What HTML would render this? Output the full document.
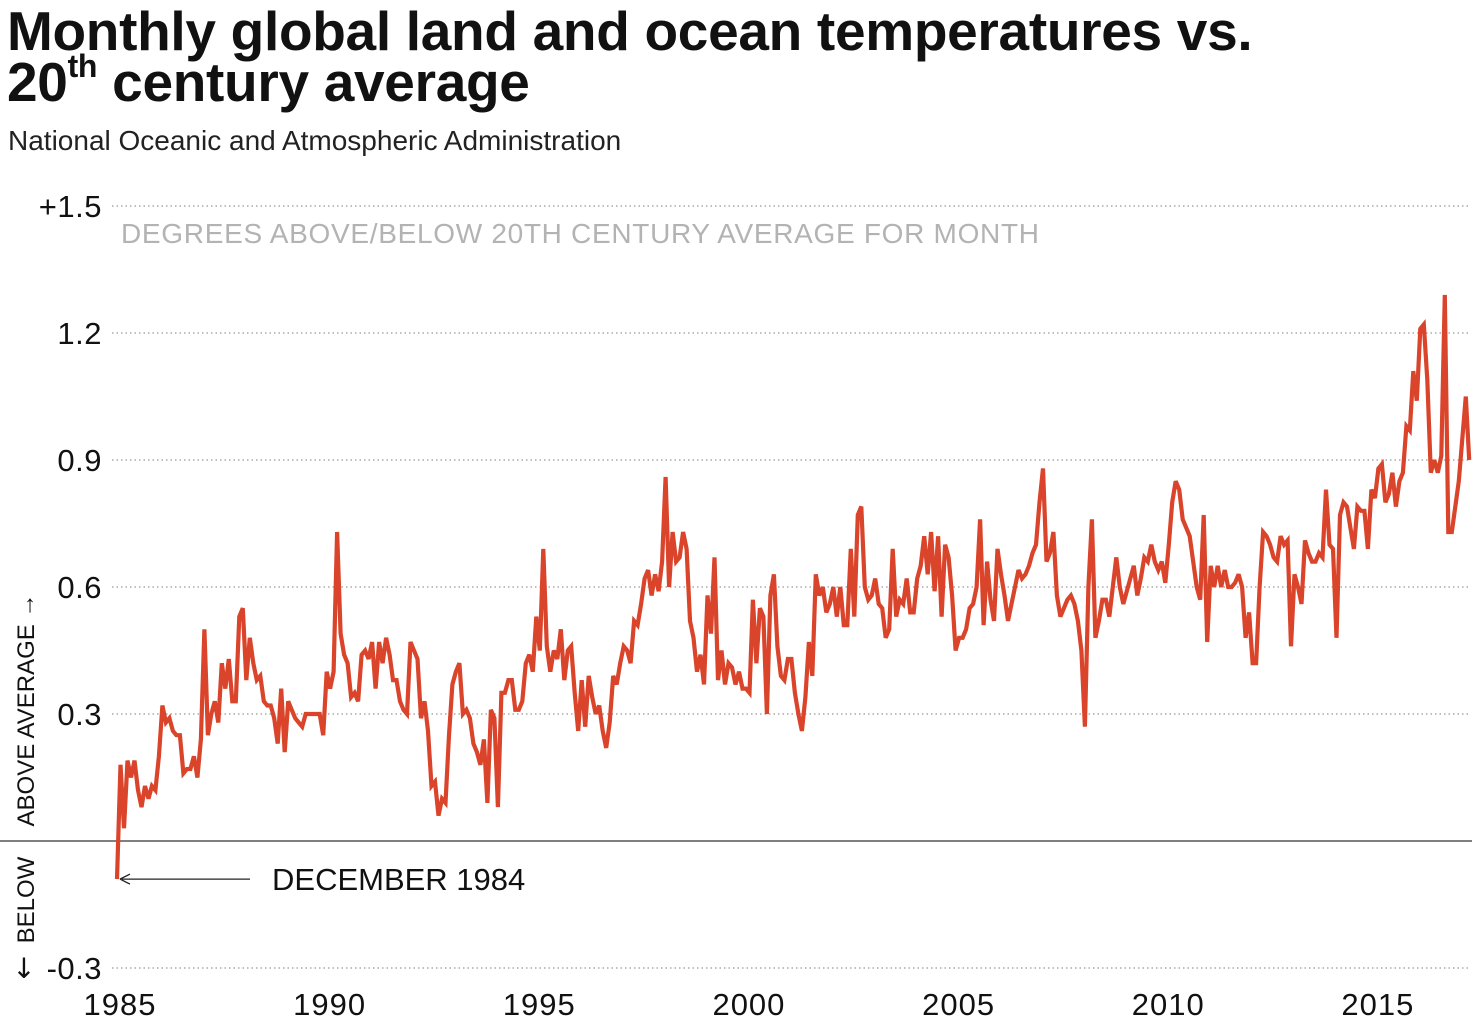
<!DOCTYPE html>
<html><head><meta charset="utf-8">
<style>
body{margin:0;background:#fff;font-family:"Liberation Sans",sans-serif;}
#wrap{position:relative;width:1484px;height:1027px;overflow:hidden;}
h1{position:absolute;left:7px;top:6px;margin:0;font-size:55px;line-height:51px;font-weight:bold;color:#111;letter-spacing:-0.3px;}
h1 sup{font-size:32px;line-height:0;vertical-align:24px;}
#sub{position:absolute;left:8px;top:125px;font-size:28px;color:#222;}
</style></head><body>
<div id="wrap">
<h1>Monthly global land and ocean temperatures vs.<br>20<sup>th</sup> century average</h1>
<div id="sub">National Oceanic and Atmospheric Administration</div>
<svg id="chart" width="1484" height="1027" style="position:absolute;left:0;top:0"></svg>
</div>
<script>
const yTicks=[1.5,1.2,0.9,0.6,0.3,0,-0.3];
const yTickLabels=["+1.5","1.2","0.9","0.6","0.3","","-0.3"];
const xYears=[1985,1990,1995,2000,2005,2010,2015];
const dec1984=[-0.09];
const y1985=[0.18,0.03,0.19,0.15,0.19,0.12,0.08,0.13,0.10,0.13,0.12,0.20];
const y1986=[0.32,0.28,0.29,0.26,0.25,0.25,0.16,0.17,0.17,0.20,0.15,0.24];
const y1987=[0.50,0.25,0.30,0.33,0.28,0.42,0.36,0.43,0.33,0.33,0.53,0.55];
const y1988=[0.38,0.48,0.42,0.38,0.39,0.33,0.32,0.32,0.29,0.23,0.36,0.21];
const y1989=[0.33,0.31,0.29,0.28,0.27,0.30,0.30,0.30,0.30,0.30,0.25,0.40];
const y1990=[0.36,0.40,0.73,0.49,0.44,0.42,0.34,0.35,0.33,0.44,0.45,0.43];
const y1991=[0.47,0.36,0.47,0.42,0.48,0.44,0.38,0.38,0.33,0.31,0.30,0.47];
const y1992=[0.45,0.43,0.29,0.33,0.26,0.13,0.14,0.06,0.10,0.09,0.25,0.37];
const y1993=[0.40,0.42,0.30,0.31,0.29,0.23,0.21,0.18,0.24,0.09,0.31,0.29];
const y1994=[0.08,0.35,0.35,0.38,0.38,0.31,0.31,0.33,0.42,0.44,0.40,0.53];
const y1995=[0.45,0.69,0.46,0.40,0.45,0.43,0.50,0.38,0.45,0.46,0.35,0.26];
const y1996=[0.38,0.27,0.39,0.34,0.30,0.32,0.26,0.22,0.28,0.39,0.37,0.42];
const y1997=[0.46,0.45,0.42,0.52,0.51,0.56,0.62,0.64,0.58,0.63,0.59,0.66];
const y1998=[0.86,0.60,0.73,0.66,0.67,0.73,0.69,0.52,0.48,0.40,0.44,0.37];
const y1999=[0.58,0.49,0.67,0.38,0.45,0.37,0.42,0.41,0.37,0.40,0.36,0.36];
const y2000=[0.35,0.57,0.42,0.55,0.53,0.30,0.58,0.63,0.46,0.39,0.38,0.43];
const y2001=[0.43,0.35,0.30,0.26,0.34,0.47,0.39,0.63,0.58,0.60,0.54,0.56];
const y2002=[0.60,0.53,0.60,0.51,0.51,0.69,0.53,0.77,0.79,0.60,0.57,0.58];
const y2003=[0.62,0.56,0.55,0.48,0.50,0.69,0.53,0.57,0.56,0.62,0.54,0.54];
const y2004=[0.62,0.65,0.72,0.63,0.73,0.59,0.72,0.53,0.70,0.67,0.58,0.45];
const y2005=[0.48,0.48,0.50,0.55,0.56,0.60,0.76,0.51,0.66,0.57,0.52,0.69];
const y2006=[0.63,0.58,0.52,0.56,0.60,0.64,0.62,0.63,0.65,0.68,0.70,0.80];
const y2007=[0.88,0.66,0.68,0.73,0.58,0.53,0.55,0.57,0.58,0.56,0.52,0.45];
const y2008=[0.27,0.60,0.76,0.48,0.52,0.57,0.57,0.53,0.60,0.67,0.60,0.56];
const y2009=[0.59,0.62,0.65,0.58,0.62,0.67,0.66,0.70,0.66,0.64,0.66,0.61];
const y2010=[0.70,0.80,0.85,0.83,0.76,0.74,0.72,0.66,0.60,0.57,0.77,0.47];
const y2011=[0.65,0.60,0.65,0.60,0.64,0.60,0.60,0.61,0.63,0.60,0.48,0.54];
const y2012=[0.42,0.42,0.60,0.73,0.72,0.70,0.67,0.66,0.72,0.70,0.71,0.46];
const y2013=[0.63,0.60,0.56,0.71,0.68,0.66,0.66,0.68,0.67,0.83,0.70,0.69];
const y2014=[0.48,0.77,0.80,0.79,0.74,0.69,0.79,0.78,0.78,0.69,0.83,0.81];
const y2015=[0.88,0.89,0.80,0.82,0.87,0.79,0.85,0.87,0.98,0.97,1.11,1.04];
const y2016=[1.21,1.22,1.09,0.87,0.90,0.87,0.91,1.29,0.73,0.73,0.79,0.85];
const y2017=[0.95,1.05,0.90];
const series=[].concat(dec1984,y1985,y1986,y1987,y1988,y1989,y1990,y1991,y1992,y1993,y1994,y1995,y1996,y1997,y1998,y1999,y2000,y2001,y2002,y2003,y2004,y2005,y2006,y2007,y2008,y2009,y2010,y2011,y2012,y2013,y2014,y2015,y2016,y2017);

const NS="http://www.w3.org/2000/svg";
const svg=document.getElementById('chart');
function xYear(yr){return 120+(yr-1985)*41.93;}
function xIndex(i){return xYear(1985+(i-1)/12)+0.5;}
function yScale(v){return 841-v*423.33;}
function mk(tag,attrs,parent){const e=document.createElementNS(NS,tag);for(const k in attrs)e.setAttribute(k,attrs[k]);(parent||svg).appendChild(e);return e;}

yTicks.forEach((v,i)=>{
  const y=yScale(v);
  if(v!==0){
    const g=mk('line',{x1:112,x2:1470,y1:y,y2:y,stroke:'#999','stroke-width':1.2,'stroke-dasharray':'1.5 3'});
    
    
  }
  const t=mk('text',{x:102,y:y+11,'text-anchor':'end','font-size':31,fill:'#111','font-family':'Liberation Sans','letter-spacing':0.5});
  t.textContent=yTickLabels[i];
  
  
});
const zl=mk('line',{x1:0,x2:1472,y1:yScale(0),y2:yScale(0),stroke:'#333','stroke-width':1.3});



xYears.forEach(yr=>{
  const t=mk('text',{x:xYear(yr),y:1015,'text-anchor':'middle','font-size':31,fill:'#111','font-family':'Liberation Sans','letter-spacing':1});
  t.textContent=yr;
  
  
});

const hdr=mk('text',{x:121,y:243,'font-size':28,fill:'#b3b3b3','font-family':'Liberation Sans',textLength:918});
hdr.textContent='DEGREES ABOVE/BELOW 20TH CENTURY AVERAGE FOR MONTH';



const ab=mk('text',{transform:'translate(34,710) rotate(-90)','text-anchor':'middle','font-size':24,fill:'#111','font-family':'Liberation Sans, DejaVu Sans'});
ab.textContent='ABOVE AVERAGE →';


const bl=mk('text',{transform:'translate(34,900) rotate(-90)','text-anchor':'middle','font-size':24,fill:'#111','font-family':'Liberation Sans'});
bl.textContent='BELOW';


const da=mk('text',{x:24,y:978,'text-anchor':'middle','font-size':28,fill:'#111','font-family':'DejaVu Sans'});
da.textContent='↓';



let d='';
series.forEach((v,i)=>{const x=xIndex(i),y=yScale(v);d+=(i?'L':'M')+x.toFixed(1)+' '+y.toFixed(1);});
const line=mk('path',{d:d,fill:'none',stroke:'#d9442b','stroke-width':4.2,'stroke-linejoin':'miter','stroke-miterlimit':3});



const ay=yScale(dec1984[0]);
const al=mk('line',{x1:250,x2:122,y1:ay,y2:ay,stroke:'#222','stroke-width':1.3});


const ah=mk('path',{d:`M120 ${ay} L130 ${ay-5} M120 ${ay} L130 ${ay+5}`,stroke:'#222','stroke-width':1.3,fill:'none'});


const at=mk('text',{x:272,y:ay+11,'font-size':31,fill:'#111','font-family':'Liberation Sans'});
at.textContent='DECEMBER 1984';


</script>
</body></html>
